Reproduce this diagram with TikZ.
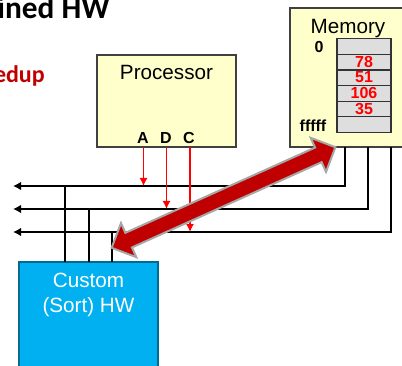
\documentclass[tikz,border=0pt]{standalone}
\usepackage{fontspec}
\setmainfont{Liberation Sans}
\newfontfamily\titlefont{Carlito}
\usepackage{tikz}
\usetikzlibrary{arrows.meta,positioning,shapes.arrows,calc}
\definecolor{boxyellow}{HTML}{FFFFCC}
\definecolor{hwblue}{HTML}{00B0F0}
\definecolor{darkred}{HTML}{C00000}
\tikzset{
  yellowbox/.style={draw=black!75, line width=0.8pt, fill=boxyellow, inner sep=0pt, outer sep=0pt},
  memcell/.style={draw=black!80, line width=0.9pt, fill=black!13, minimum width=40.5pt, minimum height=11.6pt, inner sep=0pt, outer sep=0pt},
  memtext/.style={font=\bfseries\fontsize{12}{12}\selectfont, anchor=base, inner sep=0pt},
  boxtext/.style={font=\fontsize{15.5}{15.5}\selectfont, anchor=base, inner sep=0pt},
  busline/.style={line width=1.5pt, black},
  busarrow/.style={busline, -{Latex[length=6pt,width=6.5pt]}},
  ctrlarrow/.style={line width=1.1pt, red, -{Latex[length=6pt,width=6pt]}}
}

\begin{document}
\begin{tikzpicture}[x=0.75pt,y=-0.75pt]
\useasboundingbox (0,0) rectangle (402,366);

% Slide text cut off at the left
\node[font=\titlefont\bfseries\fontsize{23.5}{23.5}\selectfont, anchor=base east, inner sep=0pt] (title) at (110,19) {ined HW};
\node[font=\titlefont\bfseries\fontsize{18}{18}\selectfont, text=darkred, anchor=base east, inner sep=0pt] (speedup) at (45,83) {edup};

% Boxes
\node[yellowbox, minimum width=104.25pt, minimum height=69pt] (processor) at (166.5,101) {};
\node[yellowbox, minimum width=90pt, minimum height=104.25pt] (memory) at (350,77.5) {};
\node[draw=hwblue!60!black, line width=1pt, fill=hwblue, minimum width=104.25pt, minimum height=88.5pt, inner sep=0pt, outer sep=0pt] (custom) at (88.5,321) {};

\node[boxtext] (proclabel) at (166.5,79.5) {Processor};
\node[boxtext] (memlabel) at (348,34) {Memory};
\node[boxtext, text=white] (customlabel) at (88.5,287) {Custom};
\node[boxtext, text=white] (sortlabel) at (88.5,312) {(Sort) HW};

% Memory cells
\foreach \name/\y in {a/46.5, b/62, c/78, d/93.5, e/109, f/124.5} {
    \node[memcell] (cell\name) at (364,\y) {};
}
\foreach \name/\val/\y in {a/78/68, b/51/83, c/106/99, d/35/115} {
    \node[memtext, text=red] (val\name) at (364,\y) {\val};
}
\node[memtext] (zero) at (319,53) {0};
\node[memtext] (last) at (313,132) {fffff};

% Processor pins
\node[memtext] (pina) at (143,144) {A};
\node[memtext] (pind) at (166,144) {D};
\node[memtext] (pinc) at (189,144) {C};

% Bus ends
\foreach \name/\x/\y/\hx in {a/345/186/65, d/368/209/89, c/391/232/112} {
    \coordinate (left\name) at (13,\y);
    \coordinate (mem\name) at (\x,147);
    \coordinate (hw\name) at (\hx,262);
}
\coordinate (ctrla) at (143.5,147);
\coordinate (ctrld) at (166.5,147);
\coordinate (ctrlc) at (190,147);

% Bus lines
\foreach \name in {a,d,c} {
    \draw[busarrow] (mem\name) |- (left\name);
    \draw[busline] (hw\name) -- (hw\name |- left\name);
    \draw[ctrlarrow] (ctrl\name) -- (ctrl\name |- left\name);
}

% Wide arrow
\node[double arrow, draw=black!35, line width=1.5pt, fill=darkred, rotate=24.2,
  minimum height=184pt, double arrow head extend=8pt,
  inner xsep=0pt, inner ysep=5.25pt] (transfer) at (223.5,197.5) {};

\end{tikzpicture}
\end{document}
